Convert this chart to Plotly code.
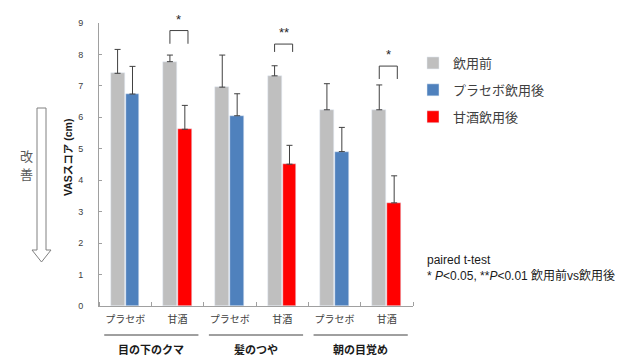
import plotly.graph_objects as go

# ---- data ----
categories = ["プラセボ", "甘酒", "プラセボ", "甘酒", "プラセボ", "甘酒"]
groups = ["目の下のクマ", "髪のつや", "朝の目覚め"]
series_names = ["飲用前", "プラセボ飲用後", "甘酒飲用後"]

before_vals = [7.40, 7.77, 6.96, 7.32, 6.24, 6.24]
before_err = [0.76, 0.21, 1.02, 0.32, 0.83, 0.79]

placebo_idx = [0, 2, 4]
placebo_vals = [6.74, 6.05, 4.91]
placebo_err = [0.88, 0.70, 0.77]

amazake_idx = [1, 3, 5]
amazake_vals = [5.62, 4.51, 3.28]
amazake_err = [0.76, 0.60, 0.86]

sig_idx = [1, 3, 5]
sig_labels = ["*", "**", "*"]
sig_top = [8.76, 8.33, 7.63]
sig_bottom = [8.34, 8.08, 7.22]

y_ticks = list(range(0, 10))
y_max = 9

# ---- style ----
GRAY = "#BFBFBF"
BLUE = "#4F81BD"
RED = "#FF0000"
ERR = "#404040"
FONT = "Liberation Sans, Noto Sans CJK JP, sans-serif"
JP = "Noto Sans CJK JP, sans-serif"

W, H = 640, 360
L, R, T, B = 99, 413, 23, 306


def px(x):
    return (x - L) / (R - L)


def py(y):
    return (B - y) / (B - T)


x_pos = list(range(len(categories)))

fig = go.Figure()

err_style = dict(type="data", symmetric=False, color=ERR, thickness=1, width=3)

fig.add_trace(go.Bar(
    x=x_pos, y=before_vals, name=series_names[0], marker_color=GRAY,
    offset=-0.28, width=0.27, legendgroup="a",
    error_y=dict(array=before_err, arrayminus=[0] * len(before_err), **err_style),
))
fig.add_trace(go.Bar(
    x=placebo_idx, y=placebo_vals, name=series_names[1], marker_color=BLUE,
    offset=0.01, width=0.26, legendgroup="b",
    error_y=dict(array=placebo_err, arrayminus=[0] * len(placebo_err), **err_style),
))
fig.add_trace(go.Bar(
    x=amazake_idx, y=amazake_vals, name=series_names[2], marker_color=RED,
    offset=0.01, width=0.26, legendgroup="c",
    error_y=dict(array=amazake_err, arrayminus=[0] * len(amazake_err), **err_style),
))

shapes = []
annotations = []

# significance brackets
for i, lab, top, bot in zip(sig_idx, sig_labels, sig_top, sig_bottom):
    x0, x1 = i - 0.145, i + 0.2
    shapes.append(dict(
        type="path", xref="x", yref="y",
        path=f"M {x0},{bot} L {x0},{top} L {x1},{top} L {x1},{bot}",
        line=dict(color="#404040", width=1),
    ))
    annotations.append(dict(
        x=(x0 + x1) / 2, y=(top + 0.36) / y_max, xref="x", yref="paper", text=lab,
        showarrow=False, font=dict(family=FONT, size=13, color="#262626"),
        xanchor="center", yanchor="middle",
    ))

# group lines and labels
for g, name in enumerate(groups):
    start = g * 2 - 0.5
    shapes.append(dict(
        type="line", xref="x", yref="paper",
        x0=start + 0.1, x1=start + 1.9, y0=py(335), y1=py(335),
        line=dict(color="#404040", width=1),
    ))
    annotations.append(dict(
        x=start + 1.0, y=py(349), xref="x", yref="paper", text=f"<b>{name}</b>",
        showarrow=False, font=dict(family=JP, size=11, color="#1a1a1a"),
        xanchor="center", yanchor="middle",
    ))

# improvement arrow (decoration)
pts = [(37, 108), (46, 108), (46, 250), (51, 250), (41.5, 262), (32, 250), (37, 250)]
path = "M " + " L ".join(f"{px(a)},{py(b)}" for a, b in pts) + " Z"
shapes.append(dict(type="path", xref="paper", yref="paper", path=path,
                   line=dict(color="#808080", width=1), fillcolor="white"))
for ch, yy in (("改", 155), ("善", 173)):
    annotations.append(dict(x=px(26), y=py(yy), xref="paper", yref="paper", text=ch,
                            showarrow=False, xanchor="center", yanchor="middle",
                            font=dict(family=JP, size=13, color="#595959")))

# y axis title
annotations.append(dict(x=px(68), y=py(158), xref="paper", yref="paper",
                        text="<b>VASスコア (cm)</b>", textangle=-90, showarrow=False,
                        xanchor="center", yanchor="middle",
                        font=dict(family=FONT, size=10.5, color="#1a1a1a")))

# footnote
annotations.append(dict(x=px(425), y=py(260), xref="paper", yref="paper",
                        text="paired t-test", showarrow=False,
                        xanchor="left", yanchor="middle",
                        font=dict(family=FONT, size=12, color="#1a1a1a")))
annotations.append(dict(x=px(425), y=py(275), xref="paper", yref="paper",
                        text="* <i>P</i>&lt;0.05, **<i>P</i>&lt;0.01 飲用前vs飲用後",
                        showarrow=False, xanchor="left", yanchor="middle",
                        font=dict(family=FONT, size=12, color="#1a1a1a")))

fig.update_layout(
    width=W, height=H,
    margin=dict(l=L, r=W - R, t=T, b=H - B),
    paper_bgcolor="white", plot_bgcolor="white",
    font=dict(family=FONT, color="#404040"),
    showlegend=True,
    legend=dict(
        x=px(413), y=py(48), xanchor="left", yanchor="top",
        font=dict(family=JP, size=13, color="#404040"),
        traceorder="grouped", tracegroupgap=7, bgcolor="rgba(0,0,0,0)",
    ),
    shapes=shapes,
    annotations=annotations,
    bargap=0,
)

fig.update_xaxes(
    range=[-0.5, len(categories) - 0.5],
    tickmode="array", tickvals=x_pos, ticktext=categories,
    ticks="", showgrid=False, zeroline=False,
    showline=True, linecolor="#A0A0A0", linewidth=1,
    tickfont=dict(family=JP, size=10, color="#404040"),
    ticklabelstandoff=4,
    minor=dict(tickmode="array", tickvals=[i - 0.5 for i in range(len(categories) + 1)],
               ticks="inside", ticklen=4, tickcolor="#A0A0A0", showgrid=False),
)
fig.update_yaxes(
    range=[0, y_max], tickmode="array", tickvals=y_ticks,
    ticks="inside", ticklen=3, tickcolor="#A0A0A0",
    showgrid=False, zeroline=False,
    showline=True, linecolor="#A0A0A0", linewidth=1,
    tickfont=dict(family=FONT, size=9, color="#404040"),
    ticklabelstandoff=13,
)

fig.write_html("out.html", config={"displayModeBar": False},
               post_script="document.body.style.margin='0px';")
